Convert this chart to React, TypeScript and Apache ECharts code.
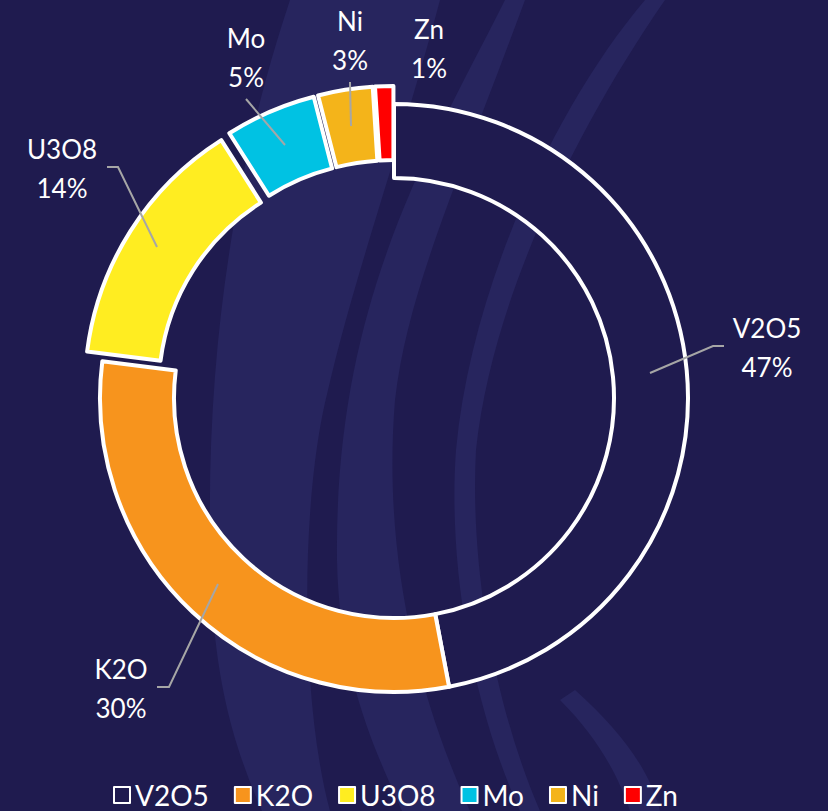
import React, { useEffect, useRef } from "react";
import * as echarts from "echarts";

const categories = ["V2O5", "K2O", "U3O8", "Mo", "Ni", "Zn"];
const shares = [47, 30, 14, 5, 3, 1];
const sliceColors = ["#1F1B4F", "#F7941D", "#FFED21", "#00C2E3", "#F4B41A", "#FF0000"];
const exploded = [false, false, true, true, true, true];

// label anchor positions (page px) and leader-line points
const labelPos = [
  [767, 347],
  [121, 688],
  [62, 168],
  [246, 57],
  [350, 40],
  [429, 48],
];
const leaderLines: (number[][] | null)[] = [
  [[650, 373], [713, 346], [724, 346]],
  [[218, 584], [169, 687], [157, 687]],
  [[157, 247], [118, 167], [107, 167]],
  [[285, 145], [246, 99]],
  [[351, 126], [350, 82]],
  null,
];

const BG = "#1F1B4F";
const SWOOSH = "#27255E";

const swooshPaths = [
  "M290 0 C240 150 200 350 212 600 C218 700 240 760 262 811 L330 811 C300 700 300 500 328 390 C356 270 400 150 440 0 Z",
  "M505 0 C430 150 334 300 337 560 C339 680 380 760 402 811 L470 811 C420 700 382 560 395 400 C408 290 455 190 525 0 Z",
  "M645 0 C560 100 472 280 456 450 C448 560 470 700 520 811 L540 811 C492 700 470 560 476 450 C492 300 575 130 665 0 Z",
  "M560 700 C600 740 620 780 630 811 L660 811 C650 770 620 730 575 690 Z",
];

swooshPaths.forEach((d, i) => {
  echarts.graphic.registerShape("swoosh" + i, (echarts.graphic as any).extendPath(d, {}));
});

export default function App() {
  const ref = useRef<HTMLDivElement>(null);
  useEffect(() => {
    if (!ref.current) return;
    const chart = echarts.init(ref.current, undefined, { renderer: "svg" });
    const font = "Lato, 'Open Sans', sans-serif";
    const center = [394, 398];
    const radius = [220, 294];
    const visualData = categories.map((name, i) => ({
      name,
      value: shares[i],
      selected: exploded[i],
      itemStyle: { color: sliceColors[i] },
    }));
    const labelData = categories.map((name, i) => ({
      name,
      value: shares[i],
      labelLine: { show: leaderLines[i] !== null },
    }));
    chart.setOption({
      animation: false,
      backgroundColor: BG,
      graphic: swooshPaths.map((_, i) => ({
        type: "swoosh" + i,
        x: 0,
        y: 0,
        z: 0,
        silent: true,
        style: { fill: SWOOSH },
      })),
      legend: {
        data: categories,
        left: 108,
        top: 776,
        icon: "rect",
        itemWidth: 16,
        itemHeight: 16,
        itemGap: 25,
        itemStyle: { borderColor: "#FFFFFF", borderWidth: 2 },
        textStyle: { color: "#FFFFFF", fontSize: 28, fontFamily: font },
      },
      series: [
        {
          type: "pie",
          name: "visual",
          center,
          radius,
          startAngle: 90,
          clockwise: true,
          selectedMode: "multiple",
          selectedOffset: 18,
          avoidLabelOverlap: false,
          itemStyle: { borderColor: "#FFFFFF", borderWidth: 4 },
          select: { itemStyle: { borderColor: "#FFFFFF", borderWidth: 4 } },
          emphasis: { disabled: true },
          label: { show: false },
          labelLine: { show: false },
          data: visualData,
        },
        {
          type: "pie",
          name: "labels",
          center,
          radius,
          startAngle: 90,
          clockwise: true,
          silent: true,
          z: 3,
          avoidLabelOverlap: false,
          itemStyle: { color: "rgba(0,0,0,0)", borderWidth: 0 },
          emphasis: { disabled: true },
          label: {
            show: true,
            position: "outside",
            color: "#FFFFFF",
            fontSize: 26,
            fontFamily: font,
            lineHeight: 39,
            align: "center",
            formatter: (p: any) => `${p.name}\n${Math.round(p.percent)}%`,
          },
          labelLine: {
            show: true,
            lineStyle: { color: "#A6A6A6", width: 2 },
          },
          labelLayout: (params: any) => {
            const i = params.dataIndex;
            const res: any = {
              x: labelPos[i][0],
              y: labelPos[i][1],
              align: "center",
              verticalAlign: "middle",
            };
            if (leaderLines[i]) res.labelLinePoints = leaderLines[i];
            return res;
          },
          data: labelData,
        },
      ],
    });
    return () => chart.dispose();
  }, []);
  return (
    <div
      ref={ref}
      style={{ position: "fixed", left: 0, top: 0, width: 828, height: 811 }}
    />
  );
}
